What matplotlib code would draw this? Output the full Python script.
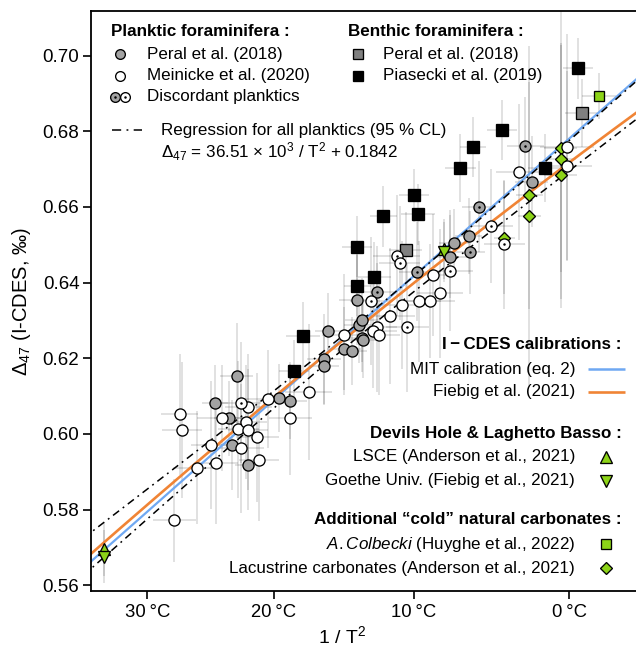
import numpy as np
import matplotlib
matplotlib.use("Agg")
import matplotlib.pyplot as plt
from matplotlib.lines import Line2D

plt.rcParams['font.family'] = ['Liberation Sans', 'DejaVu Sans']
plt.rcParams['mathtext.fontset'] = 'custom'
plt.rcParams['mathtext.rm'] = 'Liberation Sans'
plt.rcParams['mathtext.it'] = 'Liberation Sans:italic'
plt.rcParams['mathtext.bf'] = 'Liberation Sans:bold'
plt.rcParams['mathtext.default'] = 'regular'

# ---------------- data (x = 1e6 / T^2 in K^-2, y = D47 I-CDES) ----------------
peral_pl_x = [11.416, 11.286, 11.371, 11.386, 11.485, 11.670, 11.733, 11.937, 11.937, 11.964,
              12.058, 12.105, 12.136, 12.148, 12.163, 12.163, 12.172, 12.689, 12.714, 12.801, 13.179]
peral_pl_y = [0.6154, 0.6083, 0.6041, 0.5971, 0.5918, 0.6094, 0.6086, 0.6197, 0.6179, 0.6273,
              0.6225, 0.6219, 0.6355, 0.6287, 0.6301, 0.6253, 0.6248, 0.6468, 0.6505, 0.6523, 0.6667]
peral_pl_xe = [0.10, 0.08, 0.09, 0.10, 0.08, 0.09, 0.10, 0.10, 0.09, 0.08,
               0.10, 0.09, 0.11, 0.09, 0.10, 0.08, 0.09, 0.10, 0.09, 0.08, 0.10]
peral_pl_ye = [0.014, 0.010, 0.010, 0.012, 0.012, 0.009, 0.010, 0.012, 0.010, 0.010,
               0.011, 0.009, 0.012, 0.010, 0.011, 0.009, 0.010, 0.011, 0.009, 0.010, 0.012]

mein_x = [11.043, 11.075, 11.087, 11.177, 11.262, 11.292, 11.326, 11.426, 11.441, 11.469,
          11.481, 11.485, 11.539, 11.549, 11.603, 11.737, 11.845, 12.058, 12.254, 12.232,
          12.264, 12.332, 12.402, 12.507, 12.570, 12.631, 12.591, 13.104, 13.388, 13.388]
mein_y = [0.5772, 0.6052, 0.6011, 0.5911, 0.5971, 0.5922, 0.6041, 0.6012, 0.5962, 0.6032,
          0.6011, 0.6071, 0.5991, 0.5931, 0.6092, 0.6041, 0.6111, 0.6262, 0.6282, 0.6271,
          0.6262, 0.6311, 0.6341, 0.6351, 0.6351, 0.6372, 0.6420, 0.6692, 0.6758, 0.6709]
mein_xe = [0.13, 0.11, 0.12, 0.14, 0.12, 0.13, 0.15, 0.12, 0.14, 0.13,
           0.12, 0.14, 0.13, 0.12, 0.15, 0.13, 0.14, 0.13, 0.12, 0.14,
           0.13, 0.15, 0.14, 0.13, 0.15, 0.14, 0.13, 0.14, 0.16, 0.15]
mein_ye = [0.011, 0.016, 0.018, 0.015, 0.017, 0.016, 0.014, 0.018, 0.017, 0.015,
           0.016, 0.014, 0.017, 0.016, 0.013, 0.015, 0.018, 0.016, 0.017, 0.015,
           0.016, 0.018, 0.017, 0.016, 0.015, 0.017, 0.016, 0.018, 0.030, 0.025]

disc_g_x = [12.254, 12.496, 12.810, 12.864, 13.140]
disc_g_y = [0.6376, 0.6429, 0.6480, 0.6601, 0.6761]
disc_g_xe = [0.10, 0.11, 0.09, 0.10, 0.11]
disc_g_ye = [0.012, 0.013, 0.011, 0.012, 0.013]

disc_w_x = [11.441, 12.220, 12.372, 12.389, 12.435, 12.690, 12.938, 13.016]
disc_w_y = [0.6083, 0.6351, 0.6471, 0.6452, 0.6282, 0.6431, 0.6550, 0.6501]
disc_w_xe = [0.12, 0.13, 0.14, 0.12, 0.13, 0.14, 0.13, 0.12]
disc_w_ye = [0.016, 0.017, 0.016, 0.015, 0.017, 0.016, 0.015, 0.017]

peral_bn_x = [12.426, 13.479]
peral_bn_y = [0.6486, 0.6849]
peral_bn_xe = [0.10, 0.10]
peral_bn_ye = [0.010, 0.009]

pias_x = [11.757, 11.813, 12.136, 12.136, 12.239, 12.292, 12.474, 12.499, 12.753, 12.828,
          13.003, 13.258, 13.455]
pias_y = [0.6167, 0.6258, 0.6392, 0.6495, 0.6416, 0.6575, 0.6631, 0.6580, 0.6703, 0.6758,
          0.6803, 0.6702, 0.6966]
pias_xe = [0.09, 0.10, 0.08, 0.09, 0.10, 0.08, 0.09, 0.10, 0.09, 0.08, 0.09, 0.10, 0.09]
pias_ye = [0.008, 0.009, 0.008, 0.008, 0.009, 0.008, 0.007, 0.008, 0.009, 0.008, 0.008, 0.009, 0.008]

lsce_x = [10.623, 12.656]
lsce_y = [0.5695, 0.6489]
goethe_x = [10.623, 12.656]
goethe_y = [0.5676, 0.6481]
dh_xe = [0.02, 0.03]
dh_ye = [0.007, 0.008]

colb_x = [13.580]
colb_y = [0.6893]
colb_xe = [0.10]
colb_ye = [0.006]

lac_x = [13.016, 13.164, 13.164, 13.352, 13.352, 13.352]
lac_y = [0.6519, 0.6631, 0.6575, 0.6756, 0.6727, 0.6684]
lac_xe = [0.06, 0.08, 0.07, 0.10, 0.09, 0.10]
lac_ye = [0.015, 0.030, 0.045, 0.040, 0.030, 0.035]

xtick_T = [30, 20, 10, 0]
ytick_vals = [0.56, 0.58, 0.60, 0.62, 0.64, 0.66, 0.68, 0.70]

# regression for all planktics
reg_slope, reg_icpt = 36.51e3, 0.1842
cl_min, cl_curv, cl_center = 0.0018, 7.88e-6, 12.13

# ---------------- figure ----------------
W, H = 636, 646
fig = plt.figure(figsize=(W / 100, H / 100), dpi=100)
ax = fig.add_axes([91.3 / W, 1 - 591 / H, (636 - 91.3) / W, 580.5 / H])
ax.set_xlim(10.5468, 13.8019)
ax.set_ylim(0.5585, 0.7119)

GRAY = '#a3a3a3'
GREEN = '#8cd317'
ECOL = (0, 0, 0, 0.14)
FS = 12.25


def eb(x, y, xe, ye):
    ax.errorbar(x, y, xerr=xe, yerr=ye, fmt='none', ecolor=ECOL, elinewidth=1.2,
                capsize=0, zorder=1)


for args in [(peral_pl_x, peral_pl_y, peral_pl_xe, peral_pl_ye),
             (mein_x, mein_y, mein_xe, mein_ye),
             (disc_g_x, disc_g_y, disc_g_xe, disc_g_ye),
             (disc_w_x, disc_w_y, disc_w_xe, disc_w_ye),
             (peral_bn_x, peral_bn_y, peral_bn_xe, peral_bn_ye),
             (pias_x, pias_y, pias_xe, pias_ye),
             (lsce_x, lsce_y, dh_xe, dh_ye),
             (goethe_x, goethe_y, dh_xe, dh_ye),
             (colb_x, colb_y, colb_xe, colb_ye),
             (lac_x, lac_y, lac_xe, lac_ye)]:
    eb(*args)

# calibration curves
xx = np.linspace(10.5, 13.85, 400)
T = 1 / np.sqrt(xx * 1e-6)
mit = 0.0391e6 / T**2 + 0.154
fiebig = 1.038 * (-5.897 / T - 3.521e3 / T**2 + 2.391e7 / T**3 - 3.541e9 / T**4) + 0.1856
reg = reg_slope / T**2 + reg_icpt
hw = np.sqrt(cl_min**2 + cl_curv * (xx - cl_center)**2)
BLUE = '#6fa8f2'
ORANGE = '#f08435'
ax.plot(xx, mit, color=BLUE, lw=1.6, zorder=2, solid_capstyle='butt')
ax.plot(xx, fiebig, color=ORANGE, lw=1.9, zorder=2, solid_capstyle='butt')
DASHDOT = (0, (5, 3, 1.2, 3))
ax.plot(xx, reg + hw, color='k', lw=1.1, ls=DASHDOT, zorder=3)
ax.plot(xx, reg - hw, color='k', lw=1.1, ls=DASHDOT, zorder=3)

MEW = 0.95
# green markers
ax.plot(lac_x, lac_y, 'D', ms=6, mfc=GREEN, mec='k', mew=MEW, ls='none', zorder=4)
ax.plot(colb_x, colb_y, 's', ms=6.5, mfc=GREEN, mec='k', mew=MEW, ls='none', zorder=4)
ax.plot(lsce_x, lsce_y, '^', ms=8.5, mfc=GREEN, mec='k', mew=MEW, ls='none', zorder=4)
ax.plot(goethe_x, goethe_y, 'v', ms=8.5, mfc=GREEN, mec='k', mew=MEW, ls='none', zorder=4)
# benthics
ax.plot(peral_bn_x, peral_bn_y, 's', ms=8, mfc='#808080', mec='k', mew=MEW, ls='none', zorder=5)
ax.plot(pias_x, pias_y, 's', ms=8, mfc='k', mec='k', mew=MEW, ls='none', zorder=5)
# planktics
ax.plot(peral_pl_x, peral_pl_y, 'o', ms=8, mfc=GRAY, mec='k', mew=MEW, ls='none', zorder=6)
ax.plot(mein_x, mein_y, 'o', ms=8, mfc='w', mec='k', mew=MEW, ls='none', zorder=6)
ax.plot(disc_g_x, disc_g_y, 'o', ms=8, mfc=GRAY, mec='k', mew=MEW, ls='none', zorder=6)
ax.plot(disc_w_x, disc_w_y, 'o', ms=8, mfc='w', mec='k', mew=MEW, ls='none', zorder=6)
ax.plot(disc_g_x + disc_w_x, disc_g_y + disc_w_y, 'o', ms=1.8, mfc='k', mec='k', mew=0,
        ls='none', zorder=7)

# axes styling
ax.spines['right'].set_visible(False)
for s in ['left', 'bottom', 'top']:
    ax.spines[s].set_linewidth(1.3)
xt = [1e6 / (t + 273.15)**2 for t in xtick_T]
ax.set_xticks(xt)
ax.set_xticklabels([f'{t}\u2009°C' for t in xtick_T], fontsize=13.3)
ax.set_yticks(ytick_vals)
ax.set_yticklabels([f'{v:.2f}' for v in ytick_vals], fontsize=13.5)
ax.tick_params(direction='out', length=6, width=1.2)
ax.tick_params(axis='y', pad=2.5)
ax.tick_params(axis='x', pad=3.5)


def P(px, py):
    return px / W, 1 - py / H


def ftext(px, py, s, **kw):
    kw.setdefault('fontsize', FS)
    kw.setdefault('va', 'center')
    fig.text(*P(px, py), s, **kw)


def fmark(px, py, **kw):
    x, y = P(px, py)
    fig.add_artist(Line2D([x], [y], transform=fig.transFigure, ls='none', **kw))


def fline(px0, px1, py, **kw):
    x0, y = P(px0, py)
    x1, _ = P(px1, py)
    fig.add_artist(Line2D([x0, x1], [y, y], transform=fig.transFigure, **kw))


fig.text(*P(22, 301.5), 'Δ$_{47}$ (I-CDES, ‰)', rotation=90, ha='center', va='center', fontsize=14.5)
fig.text(*P(342, 636), '1 / T$^2$', ha='center', va='center', fontsize=14)

# top-left legend
ftext(111, 31.5, 'Planktic foraminifera :', fontweight='bold')
fmark(120, 54, marker='o', ms=7, mfc=GRAY, mec='k', mew=MEW)
ftext(146.7, 54, 'Peral et al. (2018)')
fmark(120, 75.5, marker='o', ms=7, mfc='w', mec='k', mew=MEW)
ftext(146.7, 75.5, 'Meinicke et al. (2020)')
fmark(114.8, 96.5, marker='o', ms=7, mfc=GRAY, mec='k', mew=MEW)
fmark(125.4, 96.5, marker='o', ms=7, mfc='w', mec='k', mew=MEW)
fmark(114.8, 96.5, marker='o', ms=1.8, mfc='k', mew=0)
fmark(125.4, 96.5, marker='o', ms=1.8, mfc='k', mew=0)
ftext(146.7, 96.5, 'Discordant planktics')
ftext(348.4, 31.5, 'Benthic foraminifera :', fontweight='bold')
fmark(358.4, 54, marker='s', ms=7, mfc='#808080', mec='k', mew=MEW)
ftext(383.2, 54, 'Peral et al. (2018)')
fmark(358.4, 75.5, marker='s', ms=7, mfc='k', mec='k', mew=MEW)
ftext(383.2, 75.5, 'Piasecki et al. (2019)')
fline(112, 142, 130, color='k', lw=1.1, ls=(0, (6, 3.5, 1.2, 3.5)))
ftext(160.9, 130, 'Regression for all planktics (95 % CL)')
ftext(160.9, 152, 'Δ$_{47}$ = 36.51 × 10$^3$ / T$^2$ + 0.1842')

# bottom-right legend
ftext(621.7, 345, 'I\u2009\u2212\u2009CDES calibrations :', fontweight='bold', ha='right')
ftext(575, 369.3, 'MIT calibration (eq. 2)', ha='right')
fline(588, 625, 369.3, color=BLUE, lw=1.8, solid_capstyle='butt')
ftext(575, 391.7, 'Fiebig et al. (2021)', ha='right')
fline(588, 625, 391.7, color=ORANGE, lw=1.9, solid_capstyle='butt')
ftext(621.7, 433.3, 'Devils Hole & Laghetto Basso :', fontweight='bold', ha='right')
ftext(575, 456.7, 'LSCE (Anderson et al., 2021)', ha='right')
fmark(606, 456.7, marker='^', ms=8.5, mfc=GREEN, mec='k', mew=MEW)
ftext(575, 480.7, 'Goethe Univ. (Fiebig et al., 2021)', ha='right')
fmark(606, 480.7, marker='v', ms=8.5, mfc=GREEN, mec='k', mew=MEW)
ftext(621.7, 520, 'Additional \u201ccold\u201d natural carbonates :', fontweight='bold', ha='right')
ftext(575, 544, '$\\it{A. Colbecki}$ (Huyghe et al., 2022)', ha='right')
fmark(606, 544, marker='s', ms=6.5, mfc=GREEN, mec='k', mew=MEW)
ftext(575, 568.3, 'Lacustrine carbonates (Anderson et al., 2021)', ha='right')
fmark(606, 568.3, marker='D', ms=6, mfc=GREEN, mec='k', mew=MEW)

fig.savefig('out.png', dpi=100, facecolor='white')
